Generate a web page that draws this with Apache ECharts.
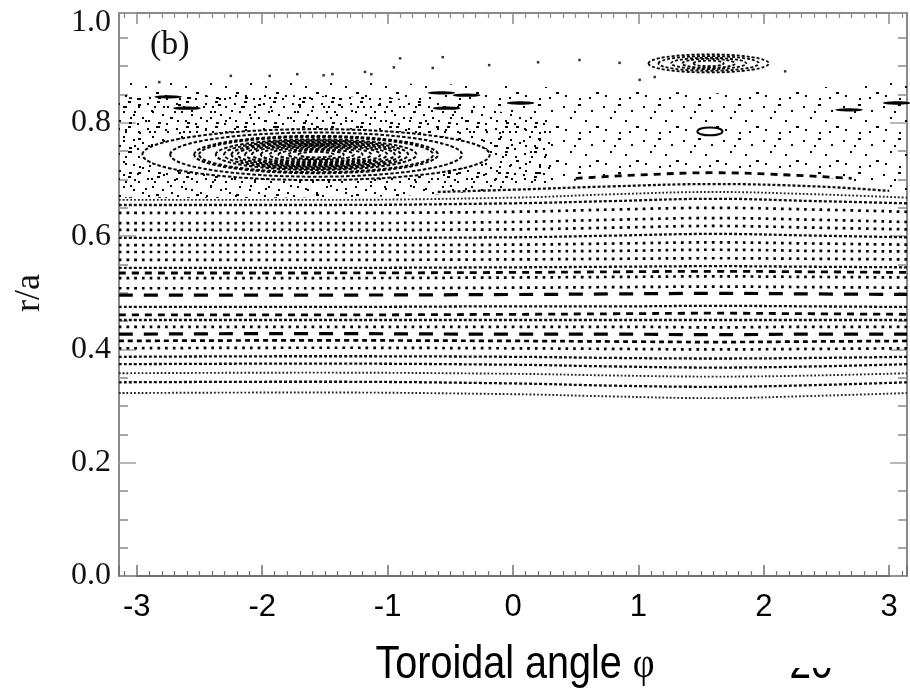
<!DOCTYPE html>
<html><head><meta charset="utf-8">
<script src="https://cdn.jsdelivr.net/npm/echarts@6/dist/echarts.min.js"></script>
<style>html,body{margin:0;padding:0;background:#fff}#c{width:910px;height:690px}</style>
</head><body><div id="c"></div>
<script>
// ---------- data ----------
const phiGrid = [-3.1416, -1.6, 0, 0.8, 1.6, 2.4, 3.1416];
// regular flux surfaces, r/a at each phiGrid point (bottom to top)
const surfaceR = [
  [0.323, 0.324, 0.321, 0.317, 0.314, 0.318, 0.323],
  [0.342, 0.343, 0.340, 0.336, 0.334, 0.337, 0.342],
  [0.358, 0.359, 0.357, 0.354, 0.352, 0.354, 0.358],
  [0.374, 0.375, 0.373, 0.370, 0.368, 0.370, 0.374],
  [0.387, 0.388, 0.387, 0.385, 0.384, 0.385, 0.387],
  [0.402, 0.403, 0.402, 0.401, 0.400, 0.401, 0.402],
  [0.415, 0.416, 0.415, 0.414, 0.413, 0.414, 0.415],
  [0.427, 0.428, 0.427, 0.427, 0.426, 0.427, 0.427],
  [0.440, 0.440, 0.440, 0.440, 0.439, 0.440, 0.440],
  [0.452, 0.452, 0.452, 0.452, 0.452, 0.452, 0.452],
  [0.461, 0.461, 0.462, 0.463, 0.464, 0.463, 0.462],
  [0.475, 0.475, 0.476, 0.476, 0.477, 0.476, 0.475],
  [0.496, 0.496, 0.497, 0.498, 0.499, 0.498, 0.497],
  [0.508, 0.508, 0.509, 0.510, 0.511, 0.510, 0.509],
  [0.526, 0.526, 0.527, 0.528, 0.529, 0.528, 0.527],
  [0.535, 0.535, 0.536, 0.537, 0.538, 0.537, 0.536],
  [0.544, 0.544, 0.545, 0.546, 0.547, 0.546, 0.545],
  [0.558, 0.558, 0.559, 0.560, 0.561, 0.560, 0.559],
  [0.572, 0.572, 0.573, 0.574, 0.576, 0.574, 0.573],
  [0.584, 0.584, 0.585, 0.587, 0.589, 0.587, 0.585],
  [0.597, 0.597, 0.598, 0.601, 0.604, 0.601, 0.598],
  [0.611, 0.611, 0.612, 0.615, 0.618, 0.615, 0.612],
  [0.623, 0.623, 0.625, 0.629, 0.632, 0.629, 0.625],
  [0.641, 0.641, 0.643, 0.647, 0.650, 0.647, 0.643],
  [0.655, 0.655, 0.658, 0.662, 0.666, 0.662, 0.658],
  [0.664, 0.664, 0.668, 0.674, 0.678, 0.674, 0.668]
];
// partial surfaces arching over phi ~ 1.6
const arcPhiA = [-0.6, 0, 0.8, 1.6, 2.4, 3.0];
const arcRA   = [0.678, 0.682, 0.688, 0.692, 0.688, 0.680];
const arcPhiB = [0.5, 1.0, 1.6, 2.2, 2.7];
const arcRB   = [0.702, 0.708, 0.712, 0.708, 0.702];
// stochastic (chaotic) layer boundaries
const chaosPhi   = [-3.1416, -2, -1, -0.5, 0, 0.6, 1.0, 1.6, 2.2, 2.6, 3.1416];
const chaosLower = [0.668, 0.668, 0.670, 0.675, 0.688, 0.700, 0.714, 0.722, 0.714, 0.700, 0.672];
const chaosTopPhi = [-3.1416, -2, -1, 0, 0.8, 1.6, 2.4, 3.1416];
const chaosUpper  = [0.874, 0.876, 0.870, 0.866, 0.858, 0.852, 0.862, 0.872];
const densePhi   = [-3.1416, -2, -1, -0.3, 0.3];
const denseLower = [0.668, 0.668, 0.670, 0.678, 0.692];
const denseUpper = [0.845, 0.850, 0.845, 0.830, 0.800];
// magnetic islands: centre phi, centre r, ring half-width (rad), ring half-height (r/a)
const bigIslandCentre = [-1.57, 0.744];
const bigIslandHW = [1.385, 1.163, 0.972, 0.933, 0.80, 0.734, 0.675, 0.627, 0.567, 0.512, 0.44, 0.37, 0.30, 0.22, 0.14];
const bigIslandHH = [0.045, 0.039, 0.033, 0.031, 0.027, 0.025, 0.023, 0.021, 0.019, 0.017, 0.015, 0.013, 0.010, 0.008, 0.005];
const topIslandCentre = [1.56, 0.905];
const topIslandHW = [0.48, 0.40, 0.30, 0.21, 0.12];
const topIslandHH = [0.016, 0.013, 0.010, 0.008, 0.005];
const midIslandCentre = [1.57, 0.785];
const midIslandHW = [0.10];
const midIslandHH = [0.007];
// small island chain fragments inside the stochastic layer
const chainPhi = [-2.75, -2.6, -0.57, -0.37, -0.53, 0.06, 3.06, 2.68];
const chainR   = [0.846, 0.826, 0.853, 0.849, 0.826, 0.835, 0.835, 0.823];
// stray orbit points above the layer
const strayPhi = [-2.82, -2.25, -1.94, -1.72, -1.51, -1.44, -1.18, -1.13, -0.95, -0.90, -0.56, -0.64, -0.19, 0.20, 0.53, 0.85, 1.01, 1.13, 2.17];
const strayR   = [0.872, 0.883, 0.883, 0.886, 0.884, 0.886, 0.890, 0.886, 0.898, 0.914, 0.916, 0.897, 0.902, 0.907, 0.911, 0.906, 0.876, 0.881, 0.891];
const xTicks = [-3, -2, -1, 0, 1, 2, 3];
const yTicks = [0.0, 0.2, 0.4, 0.6, 0.8, 1.0];

// ---------- styles ----------
const dashPresets = {
  A: {width: 1.9, type: [1.8, 2], color: '#222'},
  B: {width: 2.7, type: [2.7, 5], color: '#000'},
  C: {width: 2.3, type: [3, 2], color: '#111'},
  D: {width: 2.8, type: [7, 6], color: '#000'},
  E: {width: 3.2, type: [14, 11], color: '#000'},
  F: {width: 2.7, type: [5, 4], color: '#000'}
};
const rowStyle = ['A','C','A','C','C','B','F','E','B','C','D','C','E','B','B','D','C','B','B','B','C','B','B','B','C','A'];

function makeTile(w, h, dots) {
  const cv = document.createElement('canvas');
  cv.width = w; cv.height = h;
  const g = cv.getContext('2d');
  g.fillStyle = '#000';
  dots.forEach(d => g.fillRect(d[0], d[1], d[2] || 2, 2));
  return cv;
}
const sparseTile = makeTile(40, 34, [[3,4],[18,2,3],[31,8],[10,15],[25,18],[36,24,3],[5,27],[19,30],[14,9],[29,29]]);
const denseTile  = makeTile(29, 25, [[2,3],[12,1,3],[22,6],[7,11],[17,14],[26,17],[3,20],[13,22,3],[21,23],[9,6]]);

const chart = echarts.init(document.getElementById('c'), null, {renderer: 'canvas'});

const series = [];
function polygonSeries(pArr, lo, pUp, up, tile, z) {
  return {
    type: 'custom', coordinateSystem: 'cartesian2d', silent: true, z: z, clip: true,
    data: [[0, 0.5]], encode: {x: 0, y: 1},
    renderItem: function (params, api) {
      const pts = [];
      for (let i = 0; i < pArr.length; i++) pts.push(api.coord([pArr[i], lo[i]]));
      for (let i = pUp.length - 1; i >= 0; i--) pts.push(api.coord([pUp[i], up[i]]));
      return {type: 'polygon', shape: {points: pts}, style: {fill: {image: tile, repeat: 'repeat'}, stroke: null}};
    }
  };
}
series.push(polygonSeries(chaosPhi, chaosLower, chaosTopPhi, chaosUpper, sparseTile, 1));
series.push(polygonSeries(densePhi, denseLower, densePhi, denseUpper, denseTile, 1));

surfaceR.forEach((row, k) => {
  const st = dashPresets[rowStyle[k]];
  series.push({
    type: 'line', silent: true, symbol: 'none', smooth: 0.4, z: 2,
    data: phiGrid.map((p, i) => [p, row[i]]),
    lineStyle: {color: st.color, width: st.width, type: st.type}
  });
});
[[arcPhiA, arcRA, 'C'], [arcPhiB, arcRB, 'D']].forEach(a => {
  const st = dashPresets[a[2]];
  series.push({
    type: 'line', silent: true, symbol: 'none', smooth: 0.4, z: 2,
    data: a[0].map((p, i) => [p, a[1][i]]),
    lineStyle: {color: st.color, width: st.width, type: st.type}
  });
});

function islandSeries(centre, hw, hh, lw, dash) {
  return {
    type: 'custom', coordinateSystem: 'cartesian2d', silent: true, z: 4, clip: true,
    data: hw.map((w, i) => [centre[0], centre[1], w, hh[i]]),
    encode: {x: 0, y: 1},
    renderItem: function (params, api) {
      const c = api.coord([api.value(0), api.value(1)]);
      const e = api.coord([api.value(0) + api.value(2), api.value(1) + api.value(3)]);
      return {
        type: 'ellipse',
        shape: {cx: c[0], cy: c[1], rx: Math.abs(e[0] - c[0]), ry: Math.abs(c[1] - e[1])},
        style: {fill: params.dataIndex === 0 ? '#fff' : null, stroke: '#000', lineWidth: lw, lineDash: dash}
      };
    }
  };
}
series.push(islandSeries(bigIslandCentre, bigIslandHW, bigIslandHH, 2.0, [3.5, 2]));
series.push(islandSeries(topIslandCentre, topIslandHW, topIslandHH, 1.8, [3, 2]));
series.push(islandSeries(midIslandCentre, midIslandHW, midIslandHH, 2, null));
series.push({
  type: 'custom', coordinateSystem: 'cartesian2d', silent: true, z: 4,
  data: chainPhi.map((p, i) => [p, chainR[i]]), encode: {x: 0, y: 1},
  renderItem: function (params, api) {
    const c = api.coord([api.value(0), api.value(1)]);
    const e = api.coord([api.value(0) + 0.11, api.value(1) + 0.003]);
    return {type: 'ellipse', shape: {cx: c[0], cy: c[1], rx: Math.abs(e[0] - c[0]), ry: Math.abs(c[1] - e[1])},
      style: {fill: '#000', stroke: null}};
  }
});
series.push({
  type: 'scatter', silent: true, symbol: 'rect', symbolSize: [2.5, 2.5], z: 3,
  itemStyle: {color: '#000'},
  data: strayPhi.map((p, i) => [p, strayR[i]])
});

const gray = '#8a8a8a';
function isTick(v, arr) { return arr.some(t => Math.abs(t - v) < 1e-6); }
const option = {
  animation: false,
  backgroundColor: '#fff',
  grid: {left: 119, right: -1, top: 13, bottom: 114, containLabel: false},
  xAxis: [
    {type: 'value', min: -Math.PI, max: Math.PI, minInterval: 1, maxInterval: 1, splitNumber: 6,
     axisLine: {show: true, onZero: false, lineStyle: {color: '#707070', width: 2}},
     axisTick: {inside: true, length: 11, lineStyle: {color: '#707070', width: 1.5}},
     minorTick: {show: true, splitNumber: 10, length: 5, lineStyle: {color: '#707070', width: 1.2}},
     splitLine: {show: false},
     axisLabel: {margin: 16, fontFamily: 'Liberation Sans', fontSize: 31, color: '#000',
       showMinLabel: true, showMaxLabel: true,
       formatter: v => isTick(v, xTicks) ? String(Math.round(v)) : ''}},
    {type: 'value', position: 'top', min: -Math.PI, max: Math.PI, minInterval: 1, maxInterval: 1, splitNumber: 6,
     axisLine: {show: true, onZero: false, lineStyle: {color: gray, width: 2}},
     axisTick: {inside: true, length: 11, lineStyle: {color: gray, width: 1.5}},
     minorTick: {show: true, splitNumber: 10, length: 5, lineStyle: {color: gray, width: 1.2}},
     splitLine: {show: false}, axisLabel: {show: false}}
  ],
  yAxis: [
    {type: 'value', min: 0, max: 0.994, interval: 0.2,
     axisLine: {show: true, onZero: false, lineStyle: {color: gray, width: 2}},
     axisTick: {inside: true, length: 17, lineStyle: {color: '#a0a0a0', width: 1.5}},
     minorTick: {show: true, splitNumber: 4, length: 9, lineStyle: {color: gray, width: 1.5}},
     splitLine: {show: false},
     axisLabel: {margin: 8, fontFamily: 'Liberation Serif', fontSize: 32, color: '#111',
       showMaxLabel: true,
       formatter: v => v > 0.9 ? '{t|1.0}' : (isTick(v, yTicks) ? v.toFixed(1) : ''),
       rich: {t: {fontFamily: 'Liberation Serif', fontSize: 32, color: '#111', padding: [20, 0, 0, 0]}}}},
    {type: 'value', position: 'right', min: 0, max: 0.994, interval: 0.2,
     axisLine: {show: true, onZero: false, lineStyle: {color: gray, width: 2}},
     axisTick: {inside: true, length: 17, lineStyle: {color: '#a0a0a0', width: 1.5}},
     minorTick: {show: true, splitNumber: 4, length: 9, lineStyle: {color: gray, width: 1.5}},
     splitLine: {show: false}, axisLabel: {show: false}}
  ],
  graphic: [
    {type: 'text', left: 150, top: 28, z: 10,
     style: {text: '(b)', font: '34px "Liberation Serif"', fill: '#111'}},
    {type: 'text', x: 30, y: 293, rotation: Math.PI / 2, z: 10,
     style: {text: 'r/a', font: '36px "Liberation Serif"', fill: '#111', textAlign: 'center', textVerticalAlign: 'middle'}},
    {type: 'text', x: 515, y: 665, scaleX: 0.86, z: 10,
     style: {text: '{a|Toroidal angle }{b|φ}', textAlign: 'center', textVerticalAlign: 'middle',
       rich: {a: {font: '46px "Liberation Sans"', fill: '#000'}, b: {font: '44px "Liberation Serif"', fill: '#000'}}}},
    {type: 'text', x: 811, y: 665, scaleX: 0.84, z: 10,
     style: {text: '20', font: '46px "Liberation Sans"', fill: '#000', textAlign: 'center', textVerticalAlign: 'middle'}},
    {type: 'rect', shape: {x: 780, y: 628, width: 70, height: 40}, z: 11, style: {fill: '#fff'}}
  ],
  series: series
};
chart.setOption(option);
</script></body></html>
